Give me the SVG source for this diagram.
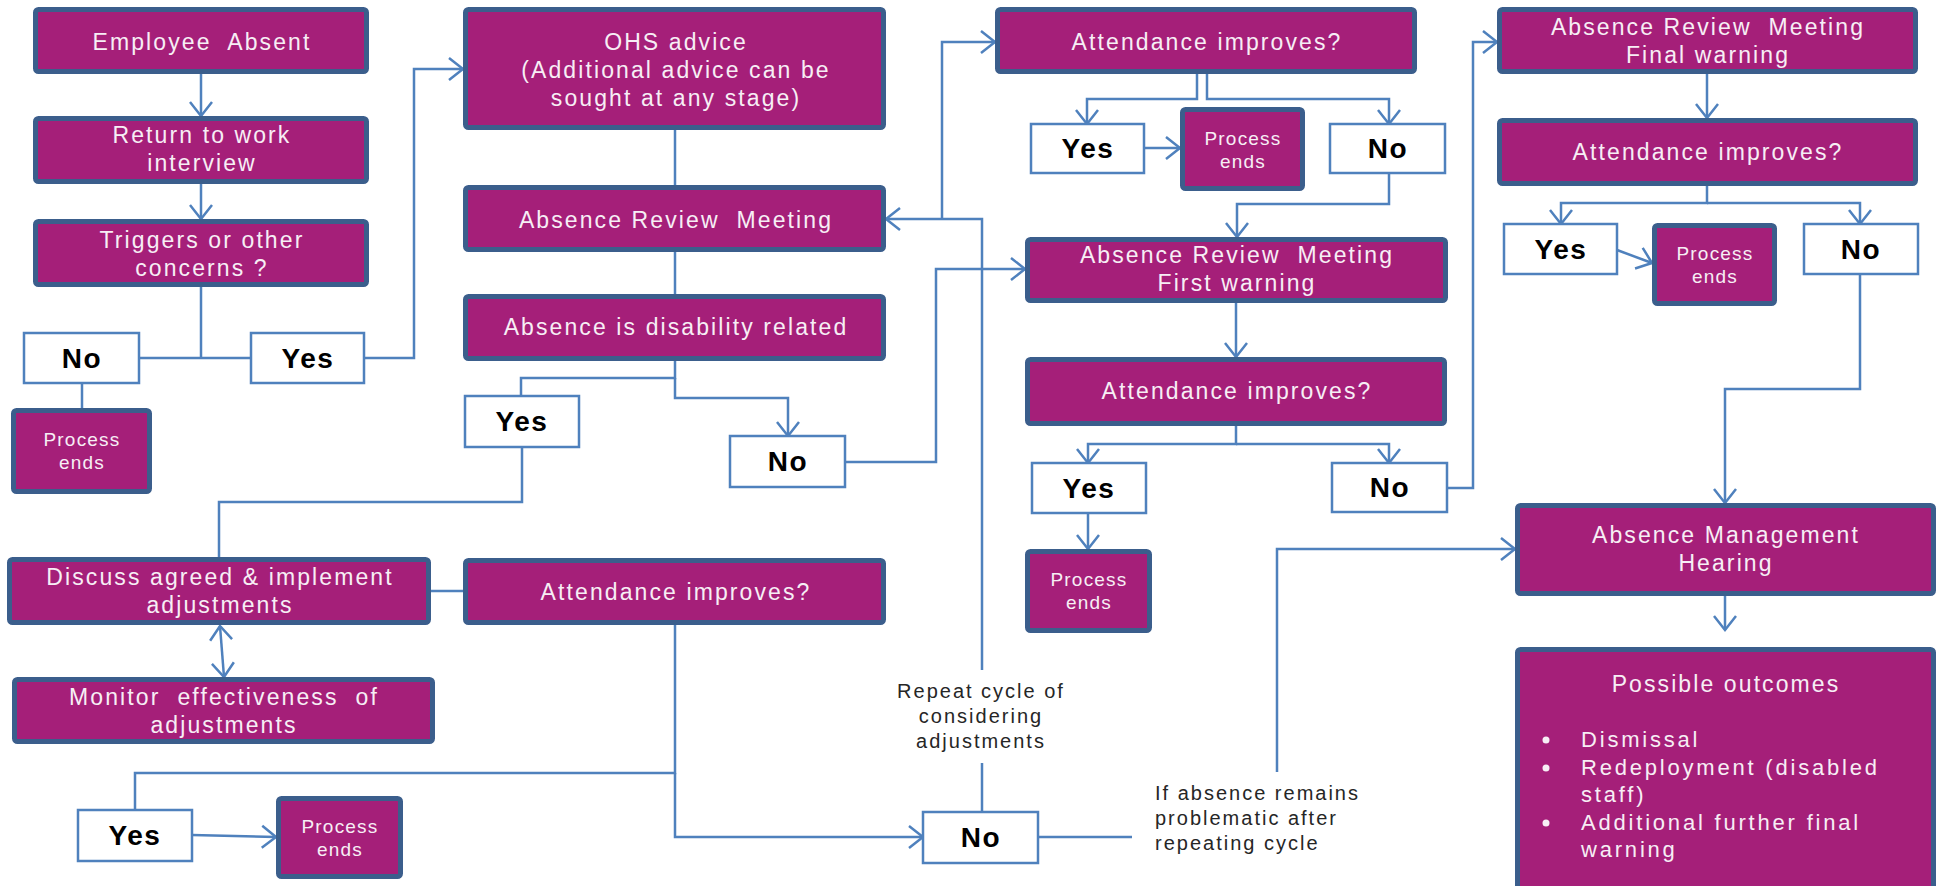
<svg xmlns="http://www.w3.org/2000/svg" width="1937" height="886" viewBox="0 0 1937 886">
  <style>
    .box { fill: #A51F79; stroke: #3B5E8C; stroke-width: 5; }
    .wbox { fill: #FFFFFF; stroke: #4F81BD; stroke-width: 2.5; }
    .conn { fill: none; stroke: #4F81BD; stroke-width: 2.5; }
    .t { font-family: "Liberation Sans", Arial, sans-serif; font-size: 23px; letter-spacing: 2.1px; fill: #F7EEF5; text-anchor: middle; }
    .pe { font-family: "Liberation Sans", Arial, sans-serif; font-size: 19px; letter-spacing: 1.2px; fill: #F7EEF5; text-anchor: middle; }
    .yn { font-family: "Liberation Sans", Arial, sans-serif; font-size: 28px; font-weight: bold; letter-spacing: 1.5px; fill: #000000; text-anchor: middle; }
    .note { font-family: "Liberation Sans", Arial, sans-serif; font-size: 20px; letter-spacing: 2px; fill: #262626; }
    .ol { font-family: "Liberation Sans", Arial, sans-serif; font-size: 22px; letter-spacing: 2.8px; fill: #F7EEF5; }
  </style>
  <defs>
    <marker id="arr" viewBox="-16 -13 18 26" refX="0" refY="0" markerWidth="18" markerHeight="26" markerUnits="userSpaceOnUse" orient="auto-start-reverse" overflow="visible">
      <path d="M-14,-11 L0,0 L-14,11" fill="none" stroke="#4F81BD" stroke-width="2.5"/>
    </marker>
  </defs>

  <!-- connectors -->
  <g id="connectors">
    <path class="conn" d="M201,74 L201,116" marker-end="url(#arr)"/>
    <path class="conn" d="M201,184 L201,219" marker-end="url(#arr)"/>
    <path class="conn" d="M201,287 L201,358"/>
    <path class="conn" d="M139,358 L251,358"/>
    <path class="conn" d="M82,383 L82,408"/>
    <path class="conn" d="M364,358 L414,358 L414,69 L463,69" marker-end="url(#arr)"/>
    <path class="conn" d="M675,130 L675,185"/>
    <path class="conn" d="M675,252 L675,294"/>
    <path class="conn" d="M675,361 L675,378 L521,378 L521,396"/>
    <path class="conn" d="M675,378 L675,398 L788,398 L788,436" marker-end="url(#arr)"/>
    <path class="conn" d="M522,447 L522,502 L219,502 L219,557"/>
    <path class="conn" d="M220,626 L224,677" marker-start="url(#arr)" marker-end="url(#arr)"/>
    <path class="conn" d="M431,591 L463,591"/>
    <path class="conn" d="M675,625 L675,773 L135,773 L135,810"/>
    <path class="conn" d="M675,773 L675,837 L923,837" marker-end="url(#arr)"/>
    <path class="conn" d="M192,835 L276,837" marker-end="url(#arr)"/>
    <path class="conn" d="M982,812 L982,763"/>
    <path class="conn" d="M982,670 L982,219 L886,219" marker-end="url(#arr)"/>
    <path class="conn" d="M942,219 L942,42 L995,42" marker-end="url(#arr)"/>
    <path class="conn" d="M845,462 L936,462 L936,269 L1025,269" marker-end="url(#arr)"/>
    <path class="conn" d="M1038,837 L1132,837"/>
    <path class="conn" d="M1277,772 L1277,549 L1515,549" marker-end="url(#arr)"/>
    <path class="conn" d="M1197,74 L1197,99 L1087,99 L1087,124" marker-end="url(#arr)"/>
    <path class="conn" d="M1207,74 L1207,99 L1389,99 L1389,124" marker-end="url(#arr)"/>
    <path class="conn" d="M1144,148 L1180,148" marker-end="url(#arr)"/>
    <path class="conn" d="M1389,173 L1389,204 L1237,204 L1237,237" marker-end="url(#arr)"/>
    <path class="conn" d="M1236,303 L1236,357" marker-end="url(#arr)"/>
    <path class="conn" d="M1236,426 L1236,444 L1088,444 L1088,463" marker-end="url(#arr)"/>
    <path class="conn" d="M1236,444 L1389,444 L1389,463" marker-end="url(#arr)"/>
    <path class="conn" d="M1088,513 L1088,549" marker-end="url(#arr)"/>
    <path class="conn" d="M1447,488 L1473,488 L1473,42 L1497,42" marker-end="url(#arr)"/>
    <path class="conn" d="M1707,74 L1707,118" marker-end="url(#arr)"/>
    <path class="conn" d="M1707,186 L1707,203 L1561,203 L1561,224" marker-end="url(#arr)"/>
    <path class="conn" d="M1707,203 L1860,203 L1860,224" marker-end="url(#arr)"/>
    <path class="conn" d="M1617,250 L1652,263" marker-end="url(#arr)"/>
    <path class="conn" d="M1860,274 L1860,389 L1725,389 L1725,503" marker-end="url(#arr)"/>
    <path class="conn" d="M1725,596 L1725,630" marker-end="url(#arr)"/>
  </g>

  <!-- process steps -->
  <g id="n_absent"><rect class="box" x="35.5" y="9.5" width="331" height="62" rx="3"/><text class="t" x="202" y="50">Employee&#160; Absent</text></g>
  <g id="n_rtw"><rect class="box" x="35.5" y="118.5" width="331" height="63" rx="3"/><text class="t" x="202" y="143">Return to work</text><text class="t" x="202" y="171">interview</text></g>
  <g id="n_triggers"><rect class="box" x="35.5" y="221.5" width="331" height="63" rx="3"/><text class="t" x="202" y="248">Triggers or other</text><text class="t" x="202" y="276">concerns ?</text></g>
  <g id="n_no1"><rect class="wbox" x="24" y="333" width="115" height="50"/><text class="yn" x="82" y="368">No</text></g>
  <g id="n_yes1"><rect class="wbox" x="251" y="333" width="113" height="50"/><text class="yn" x="308" y="368">Yes</text></g>
  <g id="n_end1"><rect class="box" x="13.5" y="410.5" width="136" height="81" rx="3"/><text class="pe" x="82" y="446">Process</text><text class="pe" x="82" y="469">ends</text></g>

  <g id="n_ohs"><rect class="box" x="465.5" y="9.5" width="418" height="118" rx="3"/><text class="t" x="676" y="50">OHS advice</text><text class="t" x="676" y="78">(Additional advice can be</text><text class="t" x="676" y="106">sought at any stage)</text></g>
  <g id="n_review"><rect class="box" x="465.5" y="187.5" width="418" height="62" rx="3"/><text class="t" x="676" y="228">Absence Review&#160; Meeting</text></g>
  <g id="n_disability"><rect class="box" x="465.5" y="296.5" width="418" height="62" rx="3"/><text class="t" x="676" y="335">Absence is disability related</text></g>
  <g id="n_yes2"><rect class="wbox" x="465" y="396" width="114" height="51"/><text class="yn" x="522" y="431">Yes</text></g>
  <g id="n_no2"><rect class="wbox" x="730" y="436" width="115" height="51"/><text class="yn" x="788" y="471">No</text></g>

  <g id="n_discuss"><rect class="box" x="9.5" y="559.5" width="419" height="63" rx="3"/><text class="t" x="220" y="585">Discuss agreed &amp; implement</text><text class="t" x="220" y="613">adjustments</text></g>
  <g id="n_monitor"><rect class="box" x="14.5" y="679.5" width="418" height="62" rx="3"/><text class="t" x="224" y="705">Monitor&#160; effectiveness&#160; of</text><text class="t" x="224" y="733">adjustments</text></g>
  <g id="n_attend1"><rect class="box" x="465.5" y="560.5" width="418" height="62" rx="3"/><text class="t" x="676" y="600">Attendance improves?</text></g>
  <g id="n_yes3"><rect class="wbox" x="78" y="810" width="114" height="51"/><text class="yn" x="135" y="845">Yes</text></g>
  <g id="n_end2"><rect class="box" x="278.5" y="798.5" width="122" height="78" rx="3"/><text class="pe" x="340" y="833">Process</text><text class="pe" x="340" y="856">ends</text></g>
  <g id="n_no3"><rect class="wbox" x="923" y="812" width="115" height="51"/><text class="yn" x="981" y="847">No</text></g>

  <g id="n_repeat_note">
    <text class="note" x="981" y="698" text-anchor="middle">Repeat cycle of</text>
    <text class="note" x="981" y="723" text-anchor="middle">considering</text>
    <text class="note" x="981" y="748" text-anchor="middle">adjustments</text>
  </g>
  <g id="n_remains_note">
    <text class="note" x="1155" y="800">If absence remains</text>
    <text class="note" x="1155" y="825">problematic after</text>
    <text class="note" x="1155" y="850">repeating cycle</text>
  </g>

  <g id="n_attend2"><rect class="box" x="997.5" y="9.5" width="417" height="62" rx="3"/><text class="t" x="1207" y="50">Attendance improves?</text></g>
  <g id="n_yes4"><rect class="wbox" x="1031" y="124" width="113" height="49"/><text class="yn" x="1088" y="158">Yes</text></g>
  <g id="n_end3"><rect class="box" x="1182.5" y="109.5" width="120" height="79" rx="3"/><text class="pe" x="1243" y="145">Process</text><text class="pe" x="1243" y="168">ends</text></g>
  <g id="n_no4"><rect class="wbox" x="1330" y="124" width="115" height="49"/><text class="yn" x="1388" y="158">No</text></g>
  <g id="n_first"><rect class="box" x="1027.5" y="239.5" width="418" height="61" rx="3"/><text class="t" x="1237" y="263">Absence Review&#160; Meeting</text><text class="t" x="1237" y="291">First warning</text></g>
  <g id="n_attend3"><rect class="box" x="1027.5" y="359.5" width="417" height="64" rx="3"/><text class="t" x="1237" y="399">Attendance improves?</text></g>
  <g id="n_yes5"><rect class="wbox" x="1032" y="463" width="114" height="50"/><text class="yn" x="1089" y="498">Yes</text></g>
  <g id="n_no5"><rect class="wbox" x="1332" y="463" width="115" height="49"/><text class="yn" x="1390" y="497">No</text></g>
  <g id="n_end4"><rect class="box" x="1027.5" y="551.5" width="122" height="79" rx="3"/><text class="pe" x="1089" y="586">Process</text><text class="pe" x="1089" y="609">ends</text></g>

  <g id="n_final"><rect class="box" x="1499.5" y="9.5" width="416" height="62" rx="3"/><text class="t" x="1708" y="35">Absence Review&#160; Meeting</text><text class="t" x="1708" y="63">Final warning</text></g>
  <g id="n_attend4"><rect class="box" x="1499.5" y="120.5" width="416" height="63" rx="3"/><text class="t" x="1708" y="160">Attendance improves?</text></g>
  <g id="n_yes6"><rect class="wbox" x="1504" y="224" width="113" height="50"/><text class="yn" x="1561" y="259">Yes</text></g>
  <g id="n_end5"><rect class="box" x="1654.5" y="225.5" width="120" height="78" rx="3"/><text class="pe" x="1715" y="260">Process</text><text class="pe" x="1715" y="283">ends</text></g>
  <g id="n_no6"><rect class="wbox" x="1804" y="224" width="114" height="50"/><text class="yn" x="1861" y="259">No</text></g>
  <g id="n_hearing"><rect class="box" x="1517.5" y="505.5" width="416" height="88" rx="3"/><text class="t" x="1726" y="543">Absence Management</text><text class="t" x="1726" y="571">Hearing</text></g>
  <g id="n_outcomes">
    <rect class="box" x="1517.5" y="649.5" width="416" height="250" rx="3"/>
    <text class="t" x="1726" y="692">Possible outcomes</text>
    <circle cx="1546" cy="740" r="3.5" fill="#F7EEF5"/>
    <circle cx="1546" cy="768" r="3.5" fill="#F7EEF5"/>
    <circle cx="1546" cy="823" r="3.5" fill="#F7EEF5"/>
    <text class="ol" x="1581" y="747">Dismissal</text>
    <text class="ol" x="1581" y="775">Redeployment (disabled</text>
    <text class="ol" x="1581" y="802">staff)</text>
    <text class="ol" x="1581" y="830">Additional further final</text>
    <text class="ol" x="1581" y="857">warning</text>
  </g>
</svg>
